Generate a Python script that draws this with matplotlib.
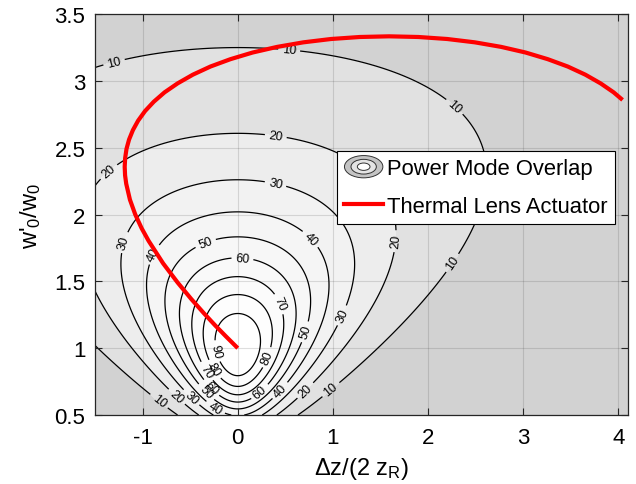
import numpy as np
import matplotlib
matplotlib.use("Agg")
import matplotlib.pyplot as plt
from matplotlib.legend_handler import HandlerBase
from matplotlib.patches import Ellipse
from matplotlib.lines import Line2D

plt.rcParams['font.family'] = ['Liberation Sans', 'DejaVu Sans']
plt.rcParams['mathtext.fontset'] = 'custom'
plt.rcParams['mathtext.rm'] = 'Liberation Sans'
plt.rcParams['mathtext.it'] = 'Liberation Sans'
plt.rcParams['mathtext.default'] = 'regular'
plt.rcParams['axes.unicode_minus'] = False

# ---- data ----
x_range = [-1.5, 4.1]          # Δz/(2 z_R)
y_range = [0.5, 3.5]           # w'0/w0
contour_levels = [10, 20, 30, 40, 50, 60, 70, 80, 90]
fill_levels = [0, 10, 20, 30, 40, 50, 60, 70, 80, 90, 101]

# thermal lens actuator path
tla_x = [0.0, -0.127, -0.237, -0.357, -0.489, -0.632, -0.784, -0.937, -1.010, -1.077,
         -1.133, -1.172, -1.184, -1.188, -1.183, -1.169, -1.142, -1.102, -1.047, -0.974,
         -0.882, -0.769, -0.632, -0.472, -0.287, -0.077, 0.157, 0.414, 0.689, 0.980,
         1.282, 1.590, 1.898, 2.200, 2.491, 2.767, 3.023, 3.257, 3.467, 3.652,
         3.812, 3.949, 4.043]
tla_y = [1.0, 1.090, 1.170, 1.262, 1.368, 1.491, 1.634, 1.803, 1.897, 2.000,
         2.111, 2.230, 2.293, 2.357, 2.423, 2.491, 2.561, 2.631, 2.702, 2.774,
         2.844, 2.914, 2.981, 3.046, 3.107, 3.162, 3.212, 3.254, 3.288, 3.313,
         3.328, 3.333, 3.328, 3.313, 3.288, 3.254, 3.212, 3.162, 3.107, 3.046,
         2.981, 2.914, 2.857]

x_ticks = [-1, 0, 1, 2, 3, 4]
x_ticklabels = ['-1', '0', '1', '2', '3', '4']
y_ticks = [0.5, 1, 1.5, 2, 2.5, 3, 3.5]
y_ticklabels = ['0.5', '1', '1.5', '2', '2.5', '3', '3.5']

label_positions = [
    (-1.30, 3.14), (0.54, 3.23), (2.27, 2.80), (2.25, 1.64), (0.975, 0.693), (-0.825, 0.606),
    (-1.35, 2.315), (0.40, 2.59), (1.66, 1.80), (0.715, 0.68), (-0.65, 0.63),
    (0.40, 2.24), (-1.19, 1.79), (1.11, 1.24), (-0.49, 0.63),
    (0.77, 1.82), (-0.88, 1.70), (0.45, 0.68), (-0.23, 0.56),
    (-0.335, 1.78), (0.715, 1.12), (-0.32, 0.68),
    (0.05, 1.68), (0.225, 0.68), (-0.27, 0.71),
    (0.435, 1.33), (-0.32, 0.83),
    (0.31, 0.93), (-0.25, 0.84),
    (-0.21, 0.98),
]

# ---- power mode overlap field ----
xg = np.linspace(x_range[0], x_range[1], 700)
yg = np.linspace(y_range[0], y_range[1], 600)
X, Y = np.meshgrid(xg, yg)
eta = (4.0 / ((Y + 1.0 / Y) ** 2 + (2.0 * X / Y) ** 2)) ** 2 * 100.0

band_grays = [210, 225, 237, 242, 245, 247, 249, 251, 253, 255]
band_colors = [(g / 255, g / 255, g / 255) for g in band_grays]

fig = plt.figure(figsize=(6.36, 4.85), dpi=100)
ax = fig.add_axes([95 / 636, 69 / 485, 533 / 636, 401 / 485])

ax.contourf(X, Y, eta, levels=fill_levels, colors=band_colors, zorder=0)
cs = ax.contour(X, Y, eta, levels=contour_levels, colors='k', linewidths=0.9, zorder=1)
ax.clabel(cs, manual=label_positions, inline=True, inline_spacing=4, fontsize=9, fmt='%d')

ax.plot(tla_x, tla_y, color=(1, 0, 0), lw=3.0, zorder=5, solid_capstyle='butt')

ax.set_xlim(x_range)
ax.set_ylim(y_range)
ax.set_xticks(x_ticks)
ax.set_xticklabels(x_ticklabels)
ax.set_yticks(y_ticks)
ax.set_yticklabels(y_ticklabels)
ax.tick_params(direction='in', top=True, right=True, labelsize=16, length=5,
               width=0.8, color=(0.15, 0.15, 0.15))
ax.tick_params(axis='x', pad=9)
ax.tick_params(axis='y', pad=7)
ax.set_axisbelow(False)
ax.grid(True, color=(0.15, 0.15, 0.15), alpha=0.15, lw=0.8)
for s in ax.spines.values():
    s.set_color((0.15, 0.15, 0.15))
    s.set_linewidth(0.9)
    s.set_zorder(6)

ax.set_xlabel(r"Δz/(2 z$_R$)", fontsize=17, labelpad=5)
ax.set_ylabel(r"w'$_0$/w$_0$", fontsize=17, labelpad=8)


class RingsHandle:
    pass


class HandlerRings(HandlerBase):
    def create_artists(self, legend, orig_handle, xdescent, ydescent, width, height,
                       fontsize, trans):
        cx = width / 2 - xdescent
        cy = height / 2 - ydescent
        arts = []
        for frac, fc in [(1.0, '#c4c4c4'), (0.66, '#e4e4e4'), (0.33, '#ffffff')]:
            e = Ellipse((cx, cy), width * frac, height * 1.45 * frac,
                        facecolor=fc, edgecolor=(0.2, 0.2, 0.2), lw=0.7, transform=trans)
            arts.append(e)
        return arts


rings = RingsHandle()
red_line = Line2D([], [], color=(1, 0, 0), lw=3.0)
leg = ax.legend([rings, red_line], ['Power Mode Overlap', 'Thermal Lens Actuator'],
                handler_map={RingsHandle: HandlerRings()},
                loc='upper right', bbox_to_anchor=(0.9756, 0.658), borderaxespad=0,
                fontsize=15.8, handlelength=1.75, handletextpad=0.2, labelspacing=0.75,
                borderpad=0.33, fancybox=False, framealpha=1, edgecolor='k')
leg.get_frame().set_linewidth(0.8)
leg.set_zorder(10)

fig.savefig('out.png', dpi=100)
